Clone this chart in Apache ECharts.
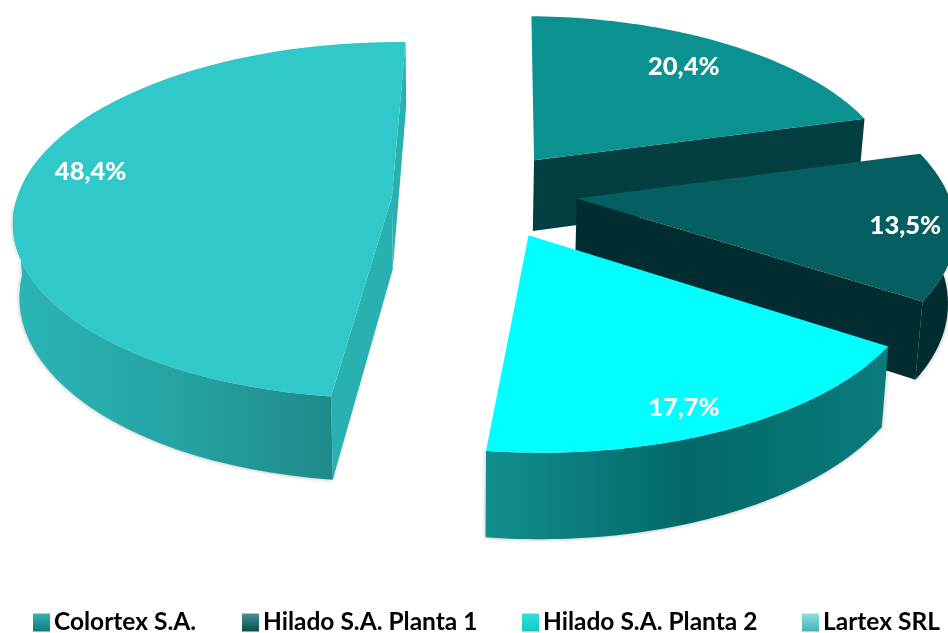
<!DOCTYPE html>
<html><head><meta charset="utf-8">
<script src="https://cdn.jsdelivr.net/npm/echarts@6/dist/echarts.min.js"></script>
<style>html,body{margin:0;padding:0;background:#fff}#c{width:948px;height:633px}</style>
</head><body><div id="c"></div>
<script>
const categories = ['Colortex S.A.', 'Hilado S.A. Planta 1', 'Hilado S.A. Planta 2', 'Lartex SRL'];
const shares = [20.4, 13.5, 17.7, 48.4];

// Layout and style, kept apart from the data
const view = {cx: 450, cy: 195, A: 372, B: 173.5, p: 0.13, T: 72.5, shrink: 0.985, startDeg: 1.2};
const explode = [[0.232, 0.205], [0.34, -0.02], [0.205, -0.225], [-0.156, -0.01]];
const sliceRadius = [0.985, 1, 1.02, 1.006];
const labelAnchor = [[37, 0.77], [100, 0.87], [158, 0.9], [280, 0.84]];
const topColor = ['#0c9191', '#055f60', '#00ffff', '#30c8c8'];
const faceColor = ['#033f40', '#022d30', '#03585a', '#29b0b0'];
const wallStops = [
  ['#0a7f7f', '#055f60'],
  ['#022d30', '#022d30'],
  ['#128e8e', '#036868', '#0a7c7c'],
  ['#2ab5b5', '#26a4a4', '#1f8a8a']
];
const legendIcon = [['#3fb0b0','#0a7f7f'], ['#4f9090','#045050'], ['#30e0e0','#12c8c8'], ['#90dede','#40b4b4']];
const legendLeft = [33, 242, 522, 802];

function project(x, y) {
  const s = 1 / (1 + view.p * y);
  return {x: view.cx + view.A * x * s, y: view.cy - view.B * y * s, s};
}
function top2(x, y) { const q = project(x, y); return [q.x, q.y]; }
function bottom2(x, y) {
  const q = project(x, y);
  return [view.cx + (q.x - view.cx) * view.shrink, q.y + view.T * q.s];
}
function hgrad(stops) {
  return new echarts.graphic.LinearGradient(0, 0, 1, 0,
    stops.map((c, i) => ({offset: i / (stops.length - 1), color: c})));
}
function startAngle(i) {
  const total = shares.reduce((a, b) => a + b, 0);
  let acc = 0;
  for (let k = 0; k < i; k++) acc += shares[k];
  return (view.startDeg + acc / total * 360) * Math.PI / 180;
}
function renderSlice(i, api) {
  const value = api.value(0);
  const a0 = startAngle(i);
  const a1 = a0 + value / shares.reduce((a, b) => a + b, 0) * 2 * Math.PI;
  const ox = explode[i][0], oy = explode[i][1], rad = sliceRadius[i];
  const steps = 60, arc = [], front = [];
  for (let k = 0; k <= steps; k++) {
    const a = a0 + (a1 - a0) * k / steps;
    const pt = [ox + rad * Math.sin(a), oy + rad * Math.cos(a)];
    arc.push(pt);
    if (Math.cos(a) <= 0.02) front.push(pt);
  }
  const topArc = arc.map(p => top2(p[0], p[1]));
  const botArc = arc.map(p => bottom2(p[0], p[1]));
  const apexT = top2(ox, oy), apexB = bottom2(ox, oy);
  const poly = (pts, fill, extra) => ({type: 'polygon', shape: {points: pts},
    style: Object.assign({fill, stroke: null}, extra || {})});
  const children = [];
  if (front.length > 1) {
    children.push(poly(front.map(p => top2(p[0], p[1])).concat(front.map(p => bottom2(p[0], p[1])).reverse()),
      hgrad(wallStops[i]), {shadowBlur: 4, shadowColor: 'rgba(0,0,0,0.3)'}));
  }
  if (Math.sin(a0) < 0) children.push(poly([apexT, topArc[0], botArc[0], apexB], faceColor[i]));
  if (Math.sin(a1) > 0) children.push(poly([apexT, topArc[steps], botArc[steps], apexB], faceColor[i]));
  children.push(poly([apexT].concat(topArc), topColor[i]));
  const la = labelAnchor[i][0] * Math.PI / 180, lr = labelAnchor[i][1];
  const lp = top2(ox + lr * Math.sin(la), oy + lr * Math.cos(la));
  children.push({type: 'text', x: lp[0], y: lp[1], z2: 10, style: {
    text: value.toFixed(1).replace('.', ',') + '%', fill: '#fff', align: 'center', verticalAlign: 'middle',
    font: '900 25.5px Lato, "Open Sans", sans-serif'
  }});
  return {type: 'group', children};
}
const chart = echarts.init(document.getElementById('c'), null, {renderer: 'canvas'});
chart.setOption({
  animation: false,
  backgroundColor: '#fff',
  legend: categories.map((name, i) => ({
    data: [name], left: legendLeft[i], top: 610, icon: 'rect', itemWidth: 17, itemHeight: 18, itemGap: 5,
    selectedMode: false, padding: 0,
    textStyle: {fontFamily: 'Lato', fontWeight: 'bold', fontSize: 24.5, color: '#000', padding: [0, 0, 0, -1]}
  })),
  series: categories.map((name, i) => ({
    type: 'custom', name, coordinateSystem: 'none', silent: true, z: i + 1,
    itemStyle: {color: new echarts.graphic.LinearGradient(0, 0, 0, 1, [
      {offset: 0, color: legendIcon[i][0]}, {offset: 1, color: legendIcon[i][1]}])},
    data: [[shares[i]]],
    renderItem: (params, api) => renderSlice(i, api)
  }))
});
</script></body></html>
